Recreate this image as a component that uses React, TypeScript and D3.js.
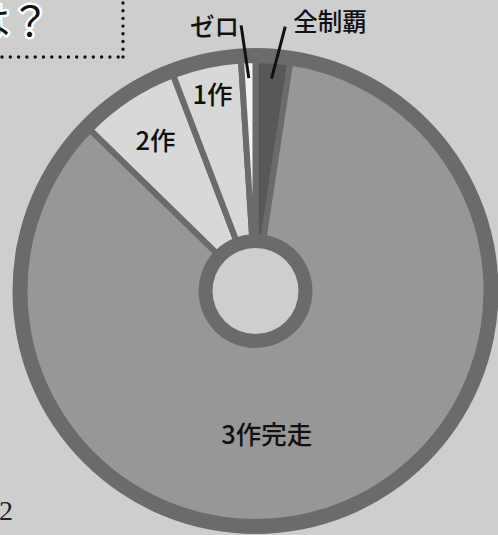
import React from 'react';
import * as d3 from 'd3';

// completion breakdown (percent), clockwise from 12 o'clock
const categories = ['全制覇', '3作完走', '2作', '1作', 'ゼロ'];
const shares = [2.4, 84.9, 6.9, 4.8, 1.0];
const headingTail = 'は？';
const pageNumber = '2';

const W = 498;
const H = 535;
const cx = 255.5;
const cy = 291;
const rOuter = 243;
const rSlice = 231;
const rInner = 54;
const rHole = 43;

const BG = '#cecece';
const RING = '#6b6b6b';
const fills = ['#585858', '#979797', '#d8d8d8', '#d8d8d8', '#f2f2f2'];
const JP = '"Noto Sans CJK JP", "Noto Sans", sans-serif';

interface Row {
  name: string;
  value: number;
}

const rows: Row[] = categories.map((name, i) => ({ name, value: shares[i] }));

const App = () => {
  const pie = d3
    .pie<Row>()
    .sort(null)
    .value(d => d.value)
    .startAngle(0)
    .endAngle(2 * Math.PI);
  const arcs = pie(rows);

  const arc = d3.arc<d3.PieArcDatum<Row>>().innerRadius(rInner).outerRadius(rSlice);

  const toRad = (deg: number) => (deg * Math.PI) / 180;
  const polar = (angle: number, r: number): [number, number] => [
    cx + r * Math.sin(angle),
    cy - r * Math.cos(angle),
  ];

  // where each label sits: inside the slice, or outside with a leader line
  const label = (a: d3.PieArcDatum<Row>) => {
    const mid = (a.startAngle + a.endAngle) / 2;
    if (a.data.name === '3作完走') {
      const [x, y] = polar(mid + toRad(14), 142);
      return { x, y, inside: true };
    }
    if (a.data.name === '2作') {
      const [x, y] = polar(mid, 182);
      return { x, y, inside: true };
    }
    if (a.data.name === '1作') {
      const [x, y] = polar(mid, 203);
      return { x, y, inside: true };
    }
    // outer labels
    const zero = a.data.name === 'ゼロ';
    const tilt = zero ? toRad(-1.3) : toRad(2.1);
    const [x1, y1] = polar(mid, 213);
    const [x2, y2] = polar(mid + tilt, 266);
    return {
      x: zero ? 214.5 : 330,
      y: zero ? 25 : 20,
      inside: false,
      line: [x1, y1, x2, y2],
    };
  };

  return (
    <svg
      width={W}
      height={H}
      style={{ position: 'absolute', left: 0, top: 0 }}
      viewBox={`0 0 ${W} ${H}`}
    >
      <rect width={W} height={H} fill={BG} />

      {/* dotted frame of the heading box */}
      <line
        x1={2}
        y1={57}
        x2={123}
        y2={57}
        stroke="#111"
        strokeWidth={3.4}
        strokeLinecap="round"
        strokeDasharray="0 8.3"
      />
      <line
        x1={123}
        y1={3}
        x2={123}
        y2={57}
        stroke="#111"
        strokeWidth={3.4}
        strokeLinecap="round"
        strokeDasharray="0 7.7"
      />
      <text
        x={50}
        y={36}
        textAnchor="end"
        fontFamily={JP}
        fontSize={40}
        fontWeight={400}
        fill="#111"
        stroke="#fff"
        strokeWidth={5}
        strokeLinejoin="round"
        style={{ paintOrder: 'stroke' }}
      >
        {headingTail}
      </text>

      <text x={-1} y={520} fontFamily='"Liberation Serif", serif' fontSize={28} fill="#222">
        {pageNumber}
      </text>

      <g transform={`translate(${cx},${cy})`}>
        <circle r={rOuter} fill={RING} />
        {arcs.map((a, i) => (
          <path
            key={a.data.name}
            d={arc(a) as string}
            fill={fills[i]}
            stroke={RING}
            strokeWidth={6}
            strokeLinejoin="miter"
          />
        ))}
        <circle r={rHole} fill={BG} />
      </g>

      {arcs.map(a => {
        const l = label(a);
        return (
          <g key={`lab-${a.data.name}`}>
            {l.line && (
              <line
                x1={l.line[0]}
                y1={l.line[1]}
                x2={l.line[2]}
                y2={l.line[3]}
                stroke="#111"
                strokeWidth={3}
              />
            )}
            <text
              x={l.x}
              y={l.y}
              textAnchor="middle"
              dominantBaseline="central"
              fontFamily={JP}
              fontSize={l.inside ? 25.5 : 24.5}
              fontWeight={500}
              fill="#111"
            >
              {a.data.name}
            </text>
          </g>
        );
      })}
    </svg>
  );
};

export default App;
